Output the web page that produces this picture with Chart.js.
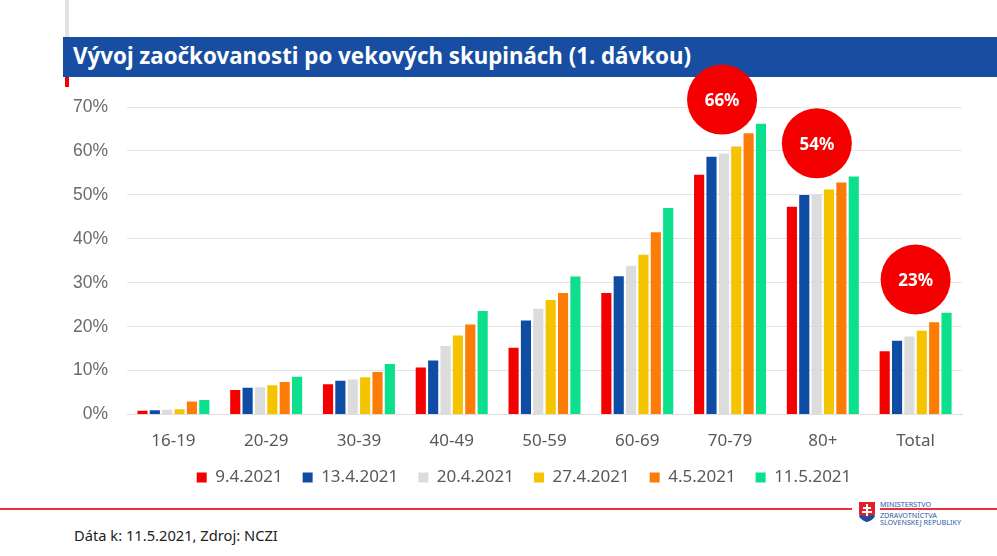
<!DOCTYPE html>
<html>
<head>
<meta charset="utf-8">
<script src="https://cdn.jsdelivr.net/npm/chart.js@4"></script>
<style>
  body { margin: 0; background: #fff; }
  #page { position: relative; width: 997px; height: 556px; overflow: hidden; font-family: "Noto Sans", sans-serif; }
  #page div { position: absolute; }
  .greybar { left: 65px; top: 0; width: 4px; height: 37px; background: #e2e2e2; }
  .redtick { left: 65px; top: 77px; width: 4px; height: 10px; background: #f00000; }
  .band { left: 63px; top: 37px; width: 934px; height: 40px; background: #174ea1; }
  .title { left: 73px; top: 41px; color: #fff; font-size: 22.3px; font-weight: 700; line-height: 30px; white-space: nowrap; }
  .redline { left: 0; top: 508px; width: 997px; height: 2px; background: #e8303a; }
  .logogap { left: 852px; top: 505px; width: 28px; height: 8px; background: #fff; }
  .source { left: 74px; top: 525px; color: #222; font-size: 14.7px; line-height: 20px; white-space: nowrap; }
  .logotext { left: 880px; color: #2a5aa8; font-size: 7.2px; line-height: 8px; white-space: nowrap; }
  .l1 { top: 500px; }
  .l2 { top: 511px; }
  .l3 { top: 518px; }
  svg { position: absolute; left: 858px; top: 501px; }
  canvas { position: absolute; left: 0; top: 0; }
</style>
</head>
<body>
<div id="page">
  <div class="greybar"></div>
  <div class="band"></div>
  <div class="redtick"></div>
  <div class="title">Vývoj zaočkovanosti po vekových skupinách (1. dávkou)</div>
  <div class="redline"></div>
  <div class="logogap"></div>
  <div class="source">Dáta k: 11.5.2021, Zdroj: NCZI</div>
  <svg width="18" height="22" viewBox="0 0 18 22">
    <path d="M1 1H17V12C17 17 12 20 9 21C6 20 1 17 1 12Z" fill="#e2202c"/>
    <path d="M1 15C3 13 6 14 9 16C12 14 15 13 17 15C16 18 12 20 9 21C6 20 2 18 1 15Z" fill="#174ea1"/>
    <path d="M8 3H10V6H13V8H10V10H14V12H10V15H8V12H4V10H8V8H5V6H8Z" fill="#fff"/>
  </svg>
  <div class="logotext l1">MINISTERSTVO</div>
  <div class="logotext l2">ZDRAVOTNÍCTVA</div>
  <div class="logotext l3">SLOVENSKEJ REPUBLIKY</div>
  <canvas id="myChart" width="997" height="556"></canvas>
</div>
<script>
const categories = ['16-19', '20-29', '30-39', '40-49', '50-59', '60-69', '70-79', '80+', 'Total'];
const dates = ['9.4.2021', '13.4.2021', '20.4.2021', '27.4.2021', '4.5.2021', '11.5.2021'];
const colors = ['#f50000', '#0f4ca3', '#dcdcdc', '#f5c400', '#fb7d07', '#0ce08c'];

const apr9 = [0.9, 5.6, 6.9, 10.7, 15.2, 27.7, 54.6, 47.3, 14.4];
const apr13 = [1.0, 6.1, 7.7, 12.3, 21.4, 31.5, 58.7, 50.0, 16.8];
const apr20 = [1.1, 6.2, 8.0, 15.6, 24.1, 33.9, 59.4, 50.1, 17.8];
const apr27 = [1.2, 6.7, 8.5, 18.0, 26.1, 36.4, 61.0, 51.2, 19.1];
const may4 = [3.0, 7.4, 9.7, 20.5, 27.7, 41.5, 64.0, 52.8, 21.0];
const may11 = [3.3, 8.6, 11.5, 23.6, 31.4, 47.0, 66.2, 54.2, 23.2];
const series = [apr9, apr13, apr20, apr27, may4, may11];

// red circles above the groups
const badgeCategories = ['70-79', '80+', 'Total'];
const badgeValues = [66, 54, 23];
const badgeShiftX = [-8, -6, 0];
const badgeShiftY = [-25, -34, -34];

const badges = {
    id: 'badges',
    afterDatasetsDraw(chart) {
        const { ctx, scales: { x, y } } = chart;
        badgeValues.forEach(function(v, i) {
            const cx = x.getPixelForValue(categories.indexOf(badgeCategories[i])) + badgeShiftX[i];
            const cy = y.getPixelForValue(v) + badgeShiftY[i];
            ctx.save();
            ctx.fillStyle = '#f40000';
            ctx.beginPath();
            ctx.arc(cx, cy, 35, 0, Math.PI * 2);
            ctx.fill();
            ctx.fillStyle = '#fff';
            ctx.font = '700 17px "Noto Sans"';
            ctx.textAlign = 'center';
            ctx.textBaseline = 'middle';
            ctx.fillText(v + '%', cx, cy + 2);
            ctx.restore();
        });
    }
};

// the legend sits right of the canvas centre and closer to the axis
const legendShift = {
    id: 'legendShift',
    afterLayout(chart) {
        chart.legend.left += 43;
        chart.legend.right += 43;
        chart.legend.top -= 10;
        chart.legend.bottom -= 10;
    }
};

new Chart(document.getElementById('myChart'), {
    type: 'bar',
    data: {
        labels: categories,
        datasets: dates.map(function(d, i) {
            return {
                label: d,
                data: series[i],
                backgroundColor: colors[i],
                categoryPercentage: 0.8,
                barPercentage: 0.82
            };
        })
    },
    options: {
        responsive: false,
        animation: false,
        layout: { padding: { top: 107, right: 35, bottom: 50, left: 0 } },
        plugins: {
            tooltip: { enabled: false },
            legend: {
                position: 'bottom',
                labels: {
                    boxWidth: 10,
                    boxHeight: 10,
                    padding: 20,
                    color: '#595959',
                    font: { family: '"Noto Sans"', size: 17 }
                }
            }
        },
        scales: {
            x: {
                grid: { display: false },
                border: { color: '#dddddd' },
                ticks: { color: '#595959', padding: 8, font: { family: '"Noto Sans"', size: 17 } }
            },
            y: {
                min: 0,
                max: 70,
                afterFit(scale) { scale.width = 127; },
                grid: { color: '#e4e4e4', drawTicks: false },
                border: { display: false },
                ticks: {
                    stepSize: 10,
                    padding: 19,
                    color: '#6b6b6b',
                    font: { family: '"Liberation Sans"', size: 17.5 },
                    callback: function(v) { return v + '%'; }
                }
            }
        }
    },
    plugins: [badges, legendShift]
});
</script>
</body>
</html>
